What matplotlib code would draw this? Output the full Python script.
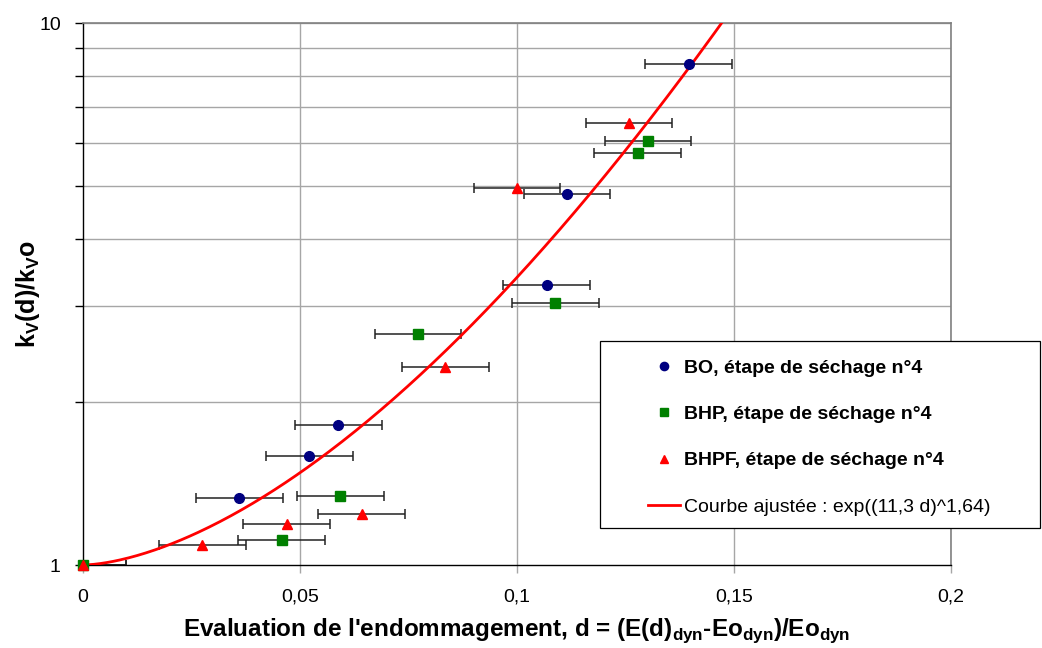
import numpy as np
import matplotlib.pyplot as plt
from matplotlib.patches import Rectangle
from matplotlib.ticker import FixedLocator, NullFormatter, FixedFormatter

plt.rcParams['font.family'] = ['Liberation Sans', 'DejaVu Sans']
plt.rcParams['mathtext.fontset'] = 'custom'
plt.rcParams['mathtext.rm'] = 'Liberation Sans'
plt.rcParams['mathtext.bf'] = 'Liberation Sans:bold'

# ---- data ----
bo_d = [0.1396, 0.1115, 0.1068, 0.0588, 0.0521, 0.0360]
bo_k = [8.39, 4.84, 3.29, 1.81, 1.59, 1.33]

bhp_d = [0.0, 0.0458, 0.0593, 0.0772, 0.1088, 0.1278, 0.1302]
bhp_k = [1.0, 1.11, 1.34, 2.67, 3.04, 5.75, 6.07]

bhpf_d = [0.0, 0.0275, 0.0469, 0.0642, 0.0835, 0.1000, 0.1258]
bhpf_k = [1.0, 1.087, 1.19, 1.24, 2.32, 4.97, 6.55]

d_err = 0.01

# fitted curve parameters (from the legend text)
fit_a = 11.3
fit_b = 1.64

labels = ["BO, étape de séchage n°4",
          "BHP, étape de séchage n°4",
          "BHPF, étape de séchage n°4",
          "Courbe ajustée : exp((11,3 d)^1,64)"]

W, H = 1042, 648
fig = plt.figure(figsize=(W / 100, H / 100), dpi=100)
ax = fig.add_axes([83 / W, 1 - 565 / H, (951 - 83) / W, (565 - 23) / H])
ax.set_yscale('log')

grid_col = '#a6a6a6'
for xv in [0.05, 0.1, 0.15, 0.2]:
    ax.axvline(xv, color=grid_col, lw=1.0, zorder=0)
for yv in range(2, 11):
    ax.axhline(yv, color=grid_col, lw=1.0, zorder=0)

ebar = dict(fmt='none', ecolor='#222222', elinewidth=1.1, capsize=3.5, capthick=1.1, zorder=2)
ax.errorbar(bo_d, bo_k, xerr=d_err, **ebar)
ax.errorbar(bhp_d, bhp_k, xerr=d_err, **ebar)
ax.errorbar(bhpf_d, bhpf_k, xerr=d_err, **ebar)

h1, = ax.plot(bo_d, bo_k, 'o', color='#000080', ms=7, ls='none', zorder=4, clip_on=False)
h2, = ax.plot(bhp_d, bhp_k, 's', color='#008000', ms=6.5, ls='none', zorder=4, clip_on=False)
h3, = ax.plot(bhpf_d, bhpf_k, '^', color='#ff0000', ms=7.5, ls='none', zorder=5, clip_on=False)

d = np.linspace(0, 0.15, 300)
h4, = ax.plot(d, np.exp((fit_a * d) ** fit_b), color='#ff0000', lw=2, zorder=3)

ax.set_xlim(0, 0.2)
ax.set_ylim(1, 10)
ax.xaxis.set_major_locator(FixedLocator([0, 0.05, 0.1, 0.15, 0.2]))
ax.xaxis.set_major_formatter(FixedFormatter(['0', '0,05', '0,1', '0,15', '0,2']))
ax.yaxis.set_major_locator(FixedLocator([1, 10]))
ax.yaxis.set_major_formatter(FixedFormatter(['1', '10']))
ax.yaxis.set_minor_locator(FixedLocator(list(range(2, 10))))
ax.yaxis.set_minor_formatter(NullFormatter())
ax.tick_params(axis='both', which='both', direction='out', length=6, width=1,
               labelsize=14, color='black')
ax.tick_params(axis='x', color=grid_col, pad=11)
ax.tick_params(axis='y', pad=10)

for s in ['top', 'right']:
    ax.spines[s].set_color('#808080')
    ax.spines[s].set_linewidth(1.2)
for s in ['left', 'bottom']:
    ax.spines[s].set_color('black')
    ax.spines[s].set_linewidth(1.0)

ax.set_xlabel(r"Evaluation de l'endommagement, d = (E(d)$_{\mathbf{dyn}}$-Eo$_{\mathbf{dyn}}$)/Eo$_{\mathbf{dyn}}$",
              fontsize=17.5, fontweight='bold', labelpad=8)
ax.set_ylabel(r"k$_{\mathbf{V}}$(d)/k$_{\mathbf{V}}$o", fontsize=18, fontweight='bold')
ax.yaxis.set_label_coords(-0.047, 0.5)

# legend frame drawn on its own so the padding matches the reference
fig.patches.append(Rectangle((600 / W, 1 - 528 / H), 440 / W, 187 / H,
                             transform=fig.transFigure, facecolor='white',
                             edgecolor='black', lw=0.9, zorder=10))
leg = fig.legend([h1, h2, h3, h4], labels, loc='upper left',
                 bbox_to_anchor=(648 / W, 1 - 359 / H),
                 fontsize=14, frameon=False, borderpad=0, labelspacing=1.48,
                 handlelength=1.65, handletextpad=0.2, borderaxespad=0,
                 markerscale=0.85)
leg.set_zorder(11)
for i, t in enumerate(leg.get_texts()):
    if i < 3:
        t.set_fontweight('bold')

fig.savefig('out.png', dpi=100)
